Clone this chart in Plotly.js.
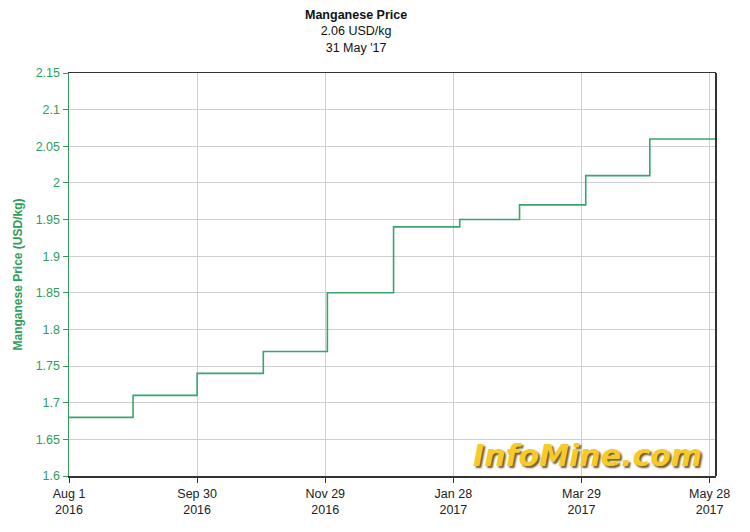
<!DOCTYPE html>
<html><head><meta charset="utf-8">
<script src="https://cdn.plot.ly/plotly-3.0.1.min.js"></script>
<style>body{margin:0;background:#fff}#c{width:750px;height:532px}</style>
</head><body><div id="c"></div>
<script>
const dates = ["2016-08-01","2016-08-31","2016-09-30","2016-10-31","2016-11-30","2016-12-31","2017-01-31","2017-02-28","2017-03-31","2017-04-30","2017-05-31"];
const prices = [1.68,1.71,1.74,1.77,1.85,1.94,1.95,1.97,2.01,2.06,2.06];
const xTickVals = ["2016-08-01","2016-09-30","2016-11-29","2017-01-28","2017-03-29","2017-05-28"];
const xTickText = ["Aug 1<br>2016","Sep 30<br>2016","Nov 29<br>2016","Jan 28<br>2017","Mar 29<br>2017","May 28<br>2017"];
const yTickVals = [1.6,1.65,1.7,1.75,1.8,1.85,1.9,1.95,2,2.05,2.1,2.15];
const yTickText = ["1.6","1.65","1.7","1.75","1.8","1.85","1.9","1.95","2","2.05","2.1","2.15"];

const green = "#2e9e5b";
const font = "Liberation Sans, Arial, sans-serif";

Plotly.newPlot("c", [{
  x: dates, y: prices, type: "scatter", mode: "lines",
  line: {shape: "hv", color: "#3aa56b", width: 1.6},
  hoverinfo: "x+y"
}], {
  width: 750, height: 532,
  margin: {l: 69, r: 34, t: 73, b: 56},
  paper_bgcolor: "#fff", plot_bgcolor: "#fff",
  font: {family: font, size: 12, color: "#222"},
  showlegend: false,
  xaxis: {
    type: "date", range: ["2016-08-01", "2017-05-31"],
    tickmode: "array", tickvals: xTickVals, ticktext: xTickText,
    showgrid: true, gridcolor: "#cfcfcf", gridwidth: 1,
    showline: true, linecolor: "#333", linewidth: 1.5, mirror: true,
    ticks: "outside", ticklen: 5, tickcolor: "#333",
    tickfont: {family: font, size: 12.5, color: "#222"},
    zeroline: false
  },
  yaxis: {
    range: [1.6, 2.15],
    tickmode: "array", tickvals: yTickVals, ticktext: yTickText,
    showgrid: true, gridcolor: "#cfcfcf", gridwidth: 1,
    showline: true, linecolor: green, linewidth: 1.5,
    ticks: "outside", ticklen: 5, tickcolor: green,
    tickfont: {family: font, size: 12.5, color: green},
    title: {text: "<b>Manganese Price (USD/kg)</b>", font: {family: font, size: 12, color: green}, standoff: 10},
    zeroline: false
  },
  shapes: [
    {type: "line", xref: "paper", yref: "paper", x0: 1, x1: 1, y0: 0, y1: 1, line: {color: "#333", width: 2}}
  ],
  annotations: [
    {xref: "paper", yref: "paper", x: 0.443, y: 1, yshift: 67, xanchor: "center", yanchor: "top",
     text: "<b>Manganese Price</b><br>2.06 USD/kg<br>31 May '17", showarrow: false,
     font: {family: font, size: 12.5, color: "#111"}},
    {xref: "paper", yref: "paper", x: 0.982, y: 0.0, xanchor: "right", yanchor: "bottom", yshift: 1,
     text: "<b><i>InfoMine.com</i></b>", showarrow: false,
     font: {family: "DejaVu Sans, sans-serif", size: 30, color: "#f7c92a", shadow: "2px 2px 2px #6b5a20"}}
  ]
}, {displayModeBar: false, staticPlot: true});
</script></body></html>
